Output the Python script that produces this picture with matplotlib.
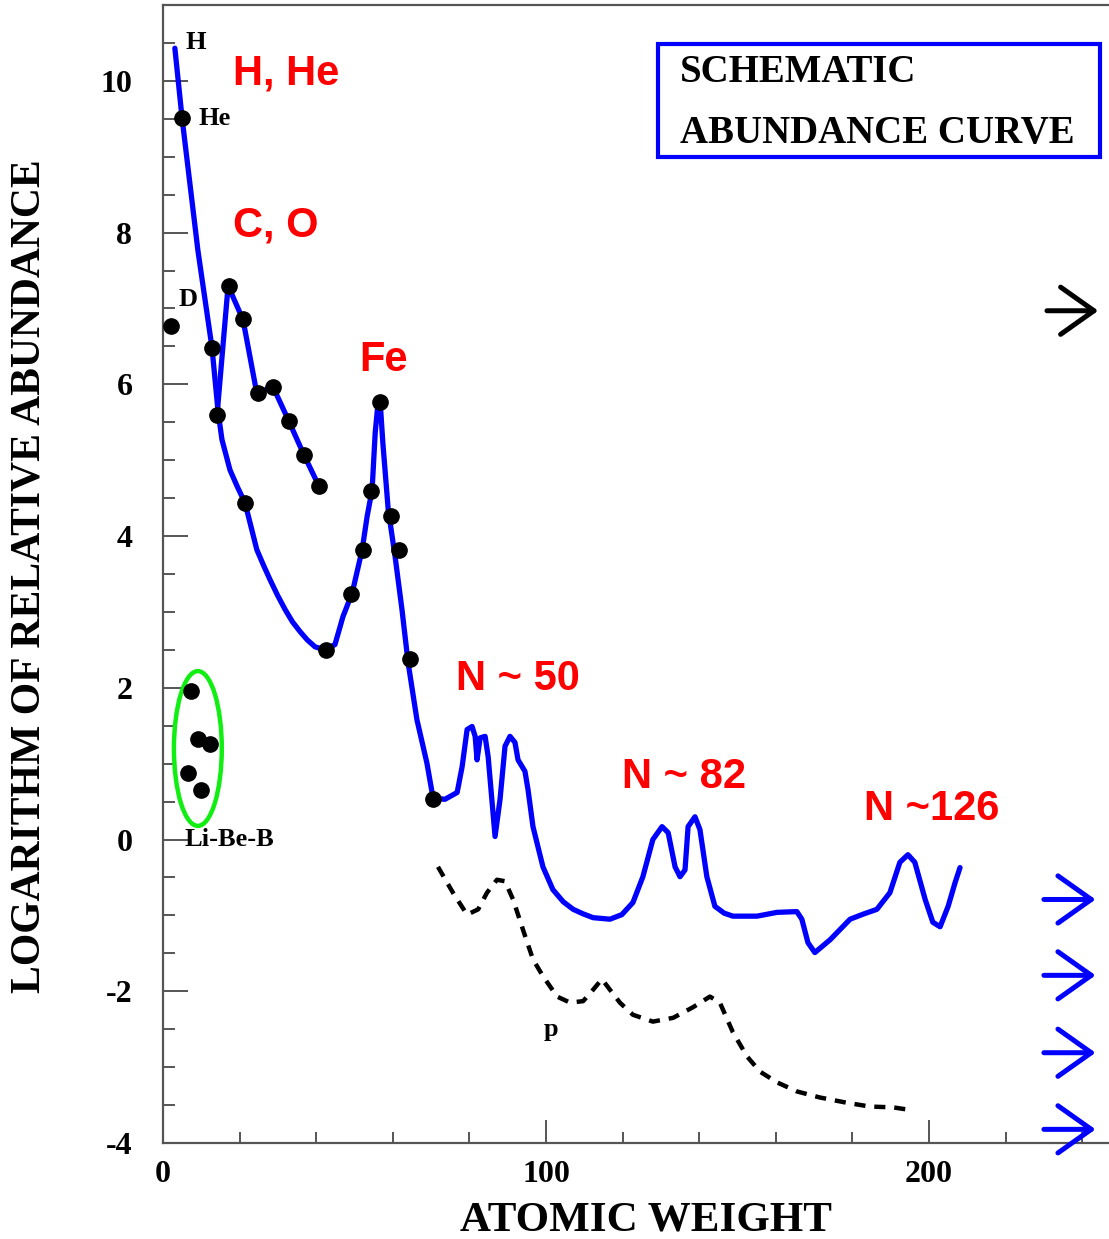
import matplotlib.pyplot as plt
from matplotlib.patches import Ellipse, Rectangle
from matplotlib.ticker import MultipleLocator, FixedLocator

plt.rcParams["axes.unicode_minus"] = False

# main schematic curve
MAIN_X = [3.1, 5.0, 9.1, 12.8, 14.4, 15.4, 17.5, 19.5, 21.4, 23.0, 24.5, 26.2, 27.9,
          29.9, 31.9, 33.8, 35.8, 37.7, 39.7,
          42.3, 44.9, 47.0, 49.4, 52.0, 53.3, 54.6, 55.4, 56.1, 56.7, 57.4, 58.8, 60.6,
          62.4, 64.0, 66.3, 68.9, 70.5, 73.6, 76.8, 78.1, 79.4, 80.7, 81.5, 82.0, 82.8,
          84.1, 84.9, 86.7, 88.0, 89.3, 90.6, 91.9, 92.7, 94.5, 95.3, 96.6, 99.2, 101.8,
          104.5, 107.1, 109.7, 112.3, 116.7, 119.8, 122.7, 125.3, 127.9, 130.3, 131.9,
          133.7, 135.0, 136.3, 137.1, 138.9, 140.2, 142.0, 144.1, 146.5, 148.8, 155.1,
          160.3, 165.5, 166.8, 168.4, 170.2, 174.2, 179.4, 183.0, 186.4, 189.8, 192.4,
          194.5, 196.3, 199.0, 201.0, 202.9, 205.0, 206.8, 208.1]
MAIN_Y = [10.43, 9.50, 7.77, 6.48, 5.63, 5.27, 4.87, 4.64, 4.44, 4.12, 3.82, 3.62, 3.43,
          3.22, 3.03, 2.87, 2.74, 2.63, 2.54,
          2.50, 2.57, 2.94, 3.25, 3.82, 4.26, 4.61, 5.36, 5.73, 5.77, 5.23, 4.35, 3.73,
          3.03, 2.33, 1.58, 1.01, 0.55, 0.53, 0.62, 0.96, 1.45, 1.49, 1.36, 1.05, 1.34,
          1.36, 1.09, 0.04, 0.53, 1.23, 1.36, 1.28, 1.05, 0.90, 0.66, 0.17, -0.36, -0.66,
          -0.82, -0.92, -0.98, -1.03, -1.05, -0.99, -0.83, -0.49, 0.00, 0.17, 0.09,
          -0.36, -0.49, -0.40, 0.17, 0.30, 0.13, -0.49, -0.88, -0.97, -1.01, -1.01,
          -0.96, -0.95, -1.05, -1.36, -1.49, -1.32, -1.05, -0.98, -0.92, -0.70, -0.30,
          -0.20, -0.30, -0.79, -1.09, -1.15, -0.88, -0.57, -0.37]

# C, O branch
CO_X = [14.1, 17.0, 20.9, 24.5, 28.7, 32.9, 36.8, 40.7]
CO_Y = [5.59, 7.30, 6.85, 5.88, 5.97, 5.51, 5.07, 4.66]

# p-process curve (dashed)
P_X = [71.8, 75.7, 79.4, 82.3, 84.6, 87.2, 89.3, 91.4, 94.0, 96.6, 99.2, 102.9, 106.3,
       109.7, 112.3, 114.6, 116.7, 119.3, 122.7, 127.9, 133.2, 138.4, 142.8, 145.4,
       148.8, 152.5, 155.9, 160.3, 165.5, 171.5, 178.6, 184.6, 190.6, 194.5]
P_Y = [-0.36, -0.70, -0.99, -0.92, -0.70, -0.53, -0.55, -0.79, -1.19, -1.58, -1.80,
       -2.07, -2.15, -2.13, -1.98, -1.84, -1.98, -2.15, -2.31, -2.40, -2.35, -2.21,
       -2.07, -2.15, -2.54, -2.86, -3.06, -3.20, -3.32, -3.40, -3.47, -3.52, -3.53, -3.56]

# measured points
DOT_X = [5.0, 2.1,
         17.2, 20.9, 12.8, 14.1, 24.8, 28.7, 32.9, 36.8, 40.7, 21.4,
         42.6, 49.1, 52.2, 54.3, 56.7, 59.5, 61.6, 64.5, 70.5,
         7.3, 9.1, 12.3, 6.5, 9.9]
DOT_Y = [9.51, 6.77,
         7.29, 6.86, 6.48, 5.59, 5.88, 5.97, 5.52, 5.07, 4.66, 4.44,
         2.50, 3.24, 3.81, 4.60, 5.77, 4.27, 3.82, 2.38, 0.53,
         1.96, 1.33, 1.26, 0.88, 0.65]

# labels
RED_LABELS = ["H, He", "C, O", "Fe", "N ~ 50", "N ~ 82", "N ~126"]
RED_X = [18.3, 18.3, 51.2, 76.5, 119.8, 183.0]
RED_Y = [10.1, 8.1, 6.32, 2.11, 0.82, 0.40]

BLACK_LABELS = ["H", "He", "D", "Li-Be-B", "p"]
BLACK_X = [6.0, 9.2, 4.0, 5.6, 99.5]
BLACK_Y = [10.51, 9.51, 7.12, 0.0, -2.50]

ARROW_Y_BLUE = [-0.79, -1.79, -2.81, -3.82]
ARROW_Y_BLACK = 6.97

SERIF = "Liberation Serif"
SANS = "Liberation Sans"

fig = plt.figure(figsize=(11.09, 12.39), dpi=100)
ax = fig.add_axes([163 / 1109, 1 - 1143 / 1239, 946 / 1109, 1138 / 1239])

ax.plot(MAIN_X, MAIN_Y, color="#0000ff", lw=3.8, solid_joinstyle="round",
        solid_capstyle="round", zorder=3)
ax.plot(CO_X, CO_Y, color="#0000ff", lw=3.8, solid_joinstyle="round", zorder=3)
ax.plot(P_X, P_Y, color="black", lw=3.2, linestyle=(0, (2.5, 2.0)), zorder=3)
ax.plot(DOT_X, DOT_Y, "o", color="black", ms=11, zorder=4)

ax.add_patch(Ellipse((9.1, 1.20), 12.5, 2.04, fill=False, edgecolor="#11ee11",
                     lw=3.2, zorder=2))

for lab, x, y in zip(RED_LABELS, RED_X, RED_Y):
    ax.text(x, y, lab, color="#ff0000", fontsize=30, fontweight="bold",
            family=SANS, ha="left", va="center")

for lab, x, y in zip(BLACK_LABELS, BLACK_X, BLACK_Y):
    ax.text(x, y, lab, color="black", fontsize=19, fontweight="bold",
            family=SERIF, ha="left", va="center")

# title box
ax.add_patch(Rectangle((0.523, 0.866), 0.467, 0.100, transform=ax.transAxes,
                       fill=False, edgecolor="#0000ff", lw=3, zorder=5))
ax.text(0.546, 0.941, "SCHEMATIC", transform=ax.transAxes, fontsize=28,
        fontweight="bold", family=SERIF, ha="left", va="center")
ax.text(0.546, 0.887, "ABUNDANCE CURVE", transform=ax.transAxes, fontsize=28,
        fontweight="bold", family=SERIF, ha="left", va="center")

# arrows on the right
arrow_kw = dict(arrowstyle="->,head_length=1.2,head_width=0.85", lw=3.6,
                shrinkA=0, shrinkB=0, mutation_scale=20)
ax.annotate("", xy=(244.2, ARROW_Y_BLACK), xytext=(230.8, ARROW_Y_BLACK),
            arrowprops=dict(color="black", **arrow_kw))
for y in ARROW_Y_BLUE:
    ax.annotate("", xy=(243.5, y), xytext=(230.0, y),
                arrowprops=dict(color="#0000ff", **arrow_kw))

ax.set_xlim(0, 247)
ax.set_ylim(-4, 11.0)

spine_col = "#555555"
for side in ["left", "bottom", "top"]:
    ax.spines[side].set_color(spine_col)
    ax.spines[side].set_linewidth(1.6)
ax.spines["right"].set_visible(False)

ax.xaxis.set_major_locator(FixedLocator([0, 100, 200]))
ax.xaxis.set_minor_locator(MultipleLocator(20))
ax.yaxis.set_major_locator(FixedLocator([-4, -2, 0, 2, 4, 6, 8, 10]))
ax.yaxis.set_minor_locator(MultipleLocator(0.5))

ax.tick_params(axis="x", which="major", direction="in", length=16.5, width=1.4,
               color=spine_col, pad=12, top=False)
ax.tick_params(axis="x", which="minor", direction="in", length=8, width=1.4,
               color=spine_col, top=False)
ax.tick_params(axis="y", which="major", direction="in", length=18, width=1.4,
               color=spine_col, pad=22, right=False)
ax.tick_params(axis="y", which="minor", direction="in", length=8.6, width=1.4,
               color=spine_col, right=False)

for lbl in ax.get_xticklabels() + ax.get_yticklabels():
    lbl.set_family(SERIF)
    lbl.set_fontweight("bold")
    lbl.set_fontsize(23)

ax.set_xlabel("ATOMIC WEIGHT", fontsize=31, fontweight="bold", family=SERIF,
              va="center")
ax.xaxis.set_label_coords(0.511, -0.068)
ax.set_ylabel("LOGARITHM OF RELATIVE ABUNDANCE", fontsize=30, fontweight="bold",
              family=SERIF, va="center")
ax.yaxis.set_label_coords(-0.1406, 0.498)

fig.savefig("out.png", dpi=100)
